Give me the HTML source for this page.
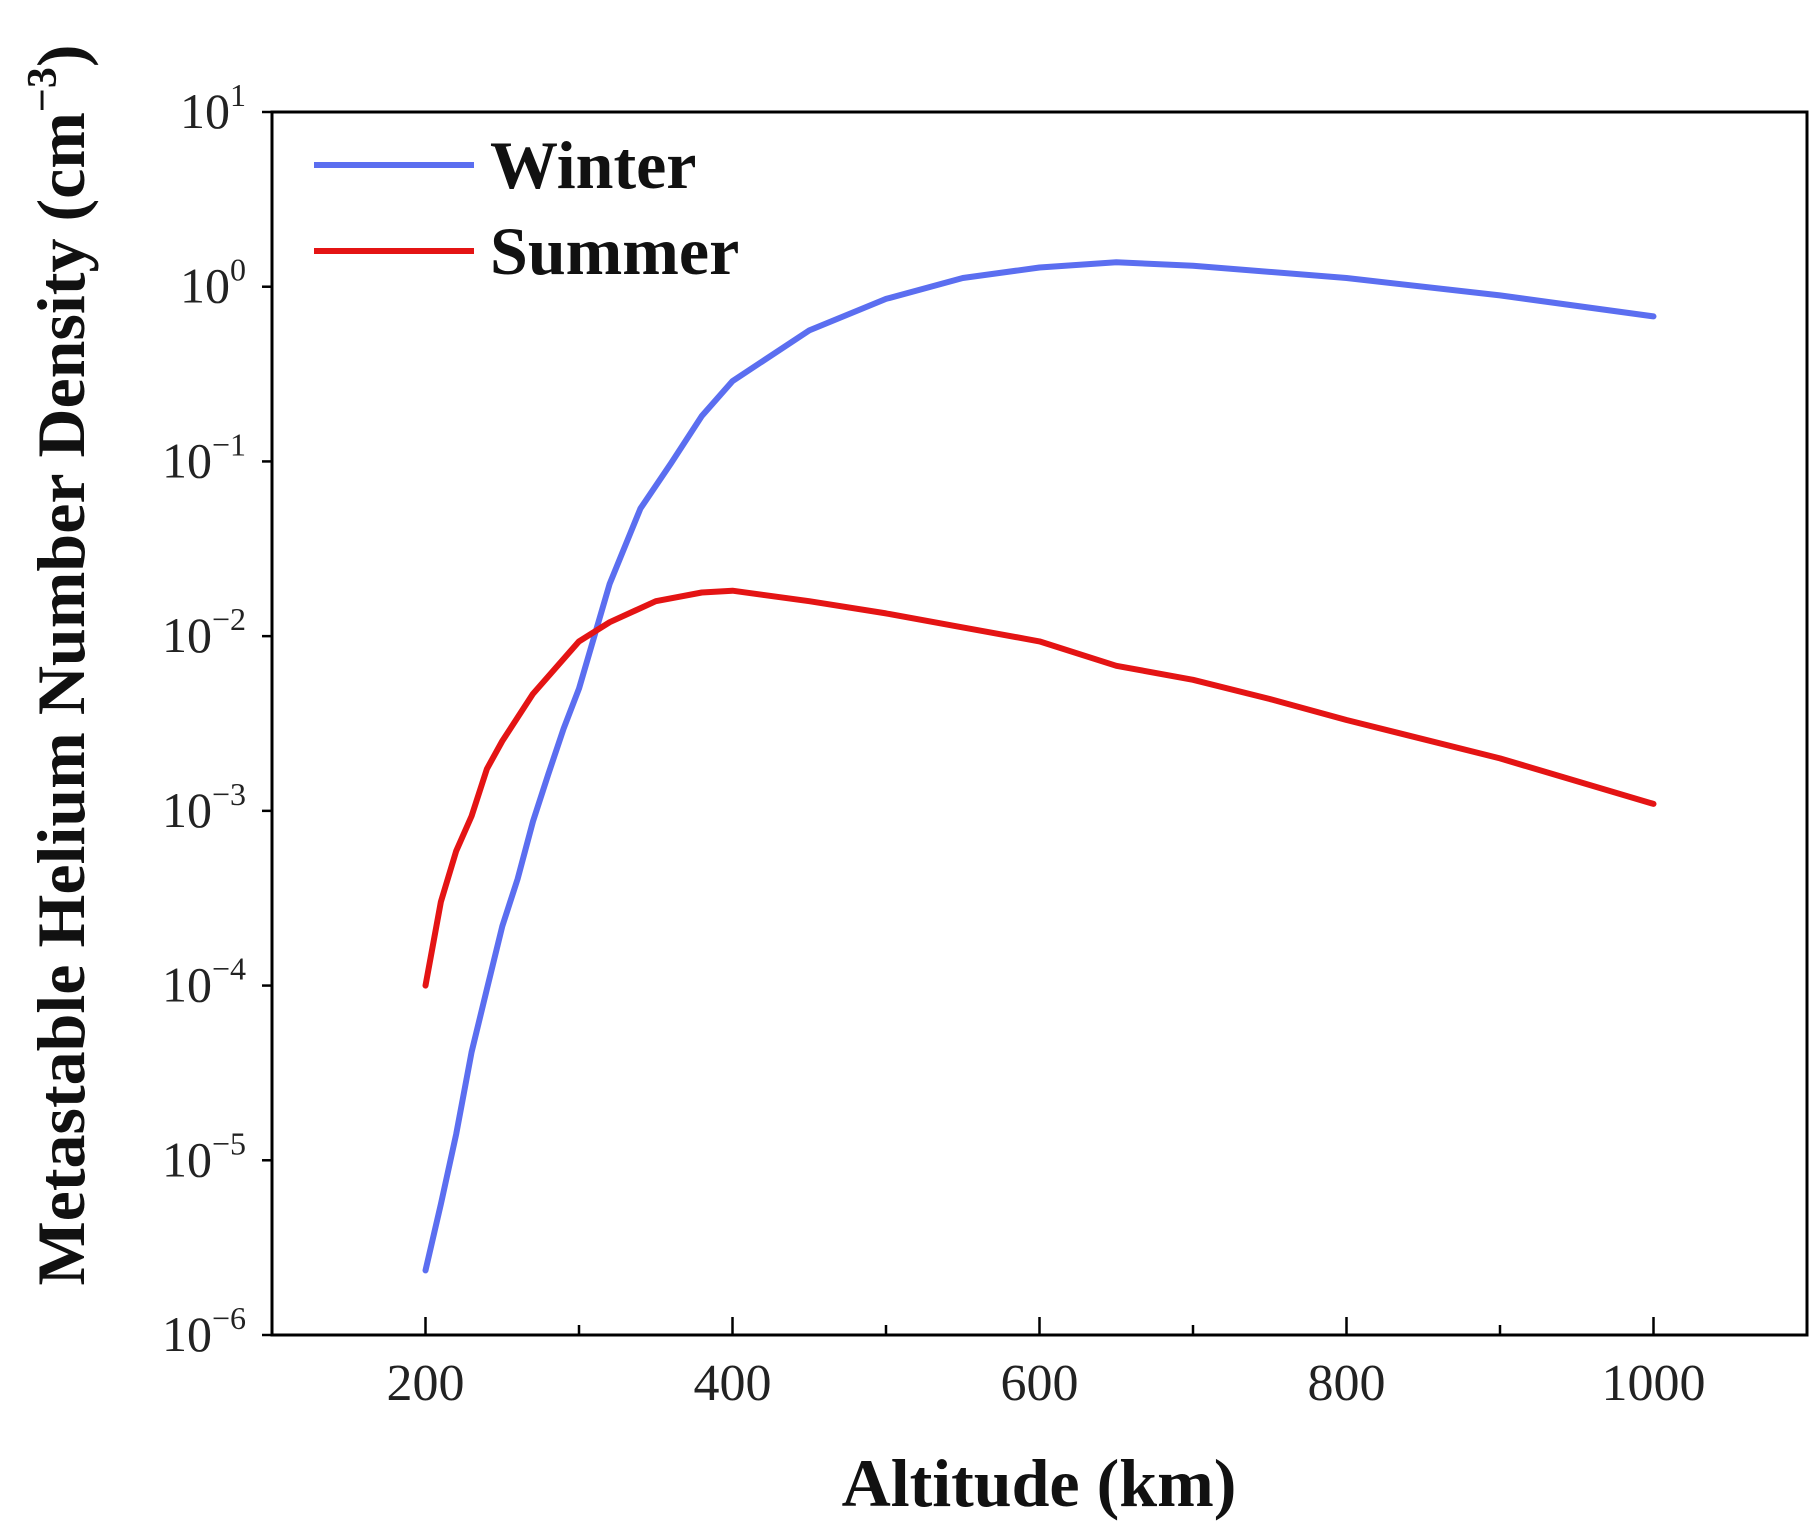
<!DOCTYPE html>
<html><head><meta charset="utf-8"><style>body{margin:0;background:#fff}svg{display:block}</style></head>
<body>
<svg id="chart" width="1818" height="1536" viewBox="0 0 1818 1536" xmlns="http://www.w3.org/2000/svg" font-family="Liberation Serif, serif"></svg>
<script>
const xTicks=[200,400,600,800,1000];
const xMinor=[300,500,700,900];
const yExps=[1,0,-1,-2,-3,-4,-5,-6];
const winterAlt=[200,210,220,230,240,250,260,270,280,290,300,320,340,360,380,400,450,500,550,600,650,700,800,900,1000];
const winterLog=[-5.63,-5.25,-4.85,-4.38,-4.02,-3.66,-3.39,-3.06,-2.79,-2.53,-2.30,-1.70,-1.27,-1.01,-0.74,-0.54,-0.25,-0.07,0.05,0.11,0.14,0.12,0.05,-0.05,-0.17];
const summerAlt=[200,210,220,230,240,250,270,300,320,350,380,400,450,500,550,600,650,700,750,800,900,1000];
const summerLog=[-4.0,-3.52,-3.23,-3.03,-2.76,-2.6,-2.33,-2.03,-1.92,-1.80,-1.75,-1.74,-1.80,-1.87,-1.95,-2.03,-2.17,-2.25,-2.36,-2.48,-2.70,-2.96];

const L=272,R=1807,T=112,B=1335;
const X=v=>L+(v-100)/1000*(R-L);
const Y=e=>T+(1-e)/7*(B-T);
const svg=document.getElementById('chart');
const NS='http://www.w3.org/2000/svg';
function mk(tag,attrs,parent){const e=document.createElementNS(NS,tag);for(const k in attrs)e.setAttribute(k,attrs[k]);(parent||svg).appendChild(e);return e;}

const frame=mk('rect',{x:L,y:T,width:R-L,height:B-T,fill:'none',stroke:'#000','stroke-width':3});



xTicks.forEach(v=>{
  const t=mk('line',{x1:X(v),x2:X(v),y1:B,y2:B-18,stroke:'#000','stroke-width':2.5});
  
  
  const l=mk('text',{x:X(v),y:1400,'text-anchor':'middle','font-size':52,fill:'#222'});
  l.textContent=v;
  
  
});
xMinor.forEach(v=>{
  const t=mk('line',{x1:X(v),x2:X(v),y1:B,y2:B-10,stroke:'#000','stroke-width':2.5});
  
  
});
yExps.forEach(e=>{
  const t=mk('line',{x1:L,x2:L-10,y1:Y(e),y2:Y(e),stroke:'#000','stroke-width':2.5});
  
  
  const l=mk('text',{x:246,y:Y(e)+16,'text-anchor':'end','font-size':50,fill:'#222'});
  l.innerHTML='10<tspan dy="-22" font-size="32">'+(e<0?'\u2212'+(-e):e)+'</tspan>';
  
  
});

function series(alt,lg,color,name){
  const d=alt.map((a,i)=>(i?'L':'M')+X(a).toFixed(1)+','+Y(lg[i]).toFixed(1)).join(' ');
  const p=mk('path',{d:d,fill:'none',stroke:color,'stroke-width':6,'stroke-linejoin':'round','stroke-linecap':'round'});
  
  
}
series(winterAlt,winterLog,'#5b6ef0','winter-line');
series(summerAlt,summerLog,'#e41414','summer-line');

[['Winter','#5b6ef0',165],['Summer','#e41414',251]].forEach(([n,c,y])=>{
  const ln=mk('line',{x1:314,x2:474,y1:y,y2:y,stroke:c,'stroke-width':6});
  
  
  const tx=mk('text',{x:490,y:y+23,'font-size':68,'font-weight':'bold',fill:'#111'});
  tx.textContent=n;
  
  
});

const xt=mk('text',{x:1039,y:1506,'text-anchor':'middle','font-size':68,'font-weight':'bold',fill:'#111'});
xt.textContent='Altitude (km)';


const yt=mk('text',{x:0,y:0,'text-anchor':'middle','font-size':68,'font-weight':'bold',fill:'#111',transform:'translate(84,665) rotate(-90)'});
yt.innerHTML='Metastable Helium Number Density (cm<tspan dy="-28" font-size="42">\u22123</tspan><tspan dy="28">)</tspan>';


</script>
</body></html>
